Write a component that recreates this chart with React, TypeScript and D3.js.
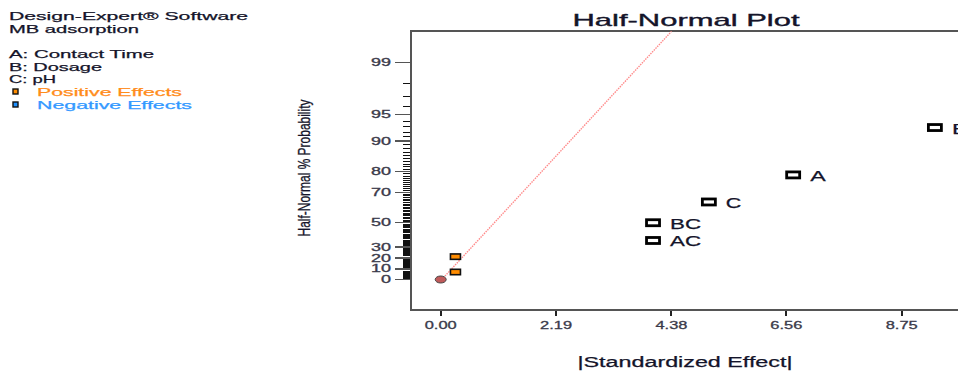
import React from "react";
import * as d3 from "d3";

// values
const noteLines = ["Design-Expert® Software", "MB adsorption"];
const factorLines = ["A: Contact Time", "B: Dosage", "C: pH"];

const errorEffects = [0];
const errorProbs = [0];
const positiveEffects = [0.28, 0.28];
const positiveProbs = [7.1, 21.4];
const termNames = ["AC", "BC", "C", "A", "B"];
const termEffects = [4.03, 4.03, 5.09, 6.69, 9.38];
const termProbs = [35.7, 50, 64.3, 78.6, 92.9];
const fitEffects = [0.08, 4.38];
const fitProbs = [3.2, 99.68];

const xTicks = [0, 2.19, 4.38, 6.56, 8.75];
const yMajor = [0, 10, 20, 30, 50, 70, 80, 90, 95, 99];
const yMinor = d3.range(0, 100);

// inverse normal cdf (Acklam)
function probit(p: number) {
  const a = [-39.6968302866538, 220.946098424521, -275.928510446969, 138.357751867269, -30.6647980661472, 2.50662827745924];
  const b = [-54.4760987982241, 161.585836858041, -155.698979859887, 66.8013118877197, -13.2806815528857];
  const c = [-0.00778489400243029, -0.322396458041136, -2.40075827716184, -2.54973253934373, 4.37466414146497, 2.93816398269878];
  const d = [0.00778469570904146, 0.32246712907004, 2.445134137143, 3.75440866190742];
  const pl = 0.02425;
  if (p < pl) {
    const q = Math.sqrt(-2 * Math.log(p));
    return (((((c[0] * q + c[1]) * q + c[2]) * q + c[3]) * q + c[4]) * q + c[5]) / ((((d[0] * q + d[1]) * q + d[2]) * q + d[3]) * q + 1);
  }
  if (p > 1 - pl) {
    const q = Math.sqrt(-2 * Math.log(1 - p));
    return -(((((c[0] * q + c[1]) * q + c[2]) * q + c[3]) * q + c[4]) * q + c[5]) / ((((d[0] * q + d[1]) * q + d[2]) * q + d[3]) * q + 1);
  }
  const q = p - 0.5;
  const r = q * q;
  return ((((((a[0] * r + a[1]) * r + a[2]) * r + a[3]) * r + a[4]) * r + a[5]) * q) / (((((b[0] * r + b[1]) * r + b[2]) * r + b[3]) * r + b[4]) * r + 1);
}
const halfZ = (pct: number) => (pct <= 0 ? 0 : probit(0.5 + pct / 200));

const FONT = "'Liberation Sans', Arial, sans-serif";
const INK = "#14142a";

export default function App() {
  const x = d3.scaleLinear().domain([0, 8.75]).range([440.7, 901.7]);
  const z = d3.scaleLinear().domain([0, halfZ(99)]).range([279.5, 62.7]);
  const y = (p: number) => z(halfZ(p));

  const frameL = 410.5;
  const frameT = 31;
  const frameB = 310;

  const fitLine = d3
    .line<number>()
    .x((_, i) => x(fitEffects[i]))
    .y((_, i) => y(fitProbs[i]));

  // the source render is stretched sideways, so widths are forced
  const w2 = (s: string, per: number) => s.length * per;

  return (
    <svg width={958} height={371} style={{ position: "absolute", left: 0, top: 0, background: "#fff" }}>
      <defs>
        <clipPath id="plotClip">
          <rect x={frameL} y={frameT} width={600} height={frameB - frameT} />
        </clipPath>
      </defs>

      {/* notes */}
      <g fontFamily={FONT} fontSize={11} fill={INK} stroke={INK} strokeWidth={0.25}>
        <text x={9} y={20} textLength={239} lengthAdjust="spacingAndGlyphs">{noteLines[0]}</text>
        <text x={9} y={33} textLength={130} lengthAdjust="spacingAndGlyphs">{noteLines[1]}</text>
        {factorLines.map((t, i) => (
          <text key={t} x={9} y={58 + i * 12.6} textLength={[145, 93, 47][i]} lengthAdjust="spacingAndGlyphs">
            {t}
          </text>
        ))}
        <rect x={13} y={89} width={5} height={5} fill="#ff8c00" stroke="#111" strokeWidth={1.4} />
        <text x={37} y={95.5} fill="#ff8c1a" stroke="#ff8c1a" textLength={145} lengthAdjust="spacingAndGlyphs">Positive Effects</text>
        <rect x={13} y={102} width={5} height={5} fill="#1e90ff" stroke="#111" strokeWidth={1.4} />
        <text x={37} y={108.5} fill="#3399ff" stroke="#3399ff" textLength={155} lengthAdjust="spacingAndGlyphs">Negative Effects</text>
      </g>

      {/* title */}
      <text x={686} y={26} textAnchor="middle" fontFamily={FONT} fontSize={17} fill={INK} stroke={INK} strokeWidth={0.35} textLength={227} lengthAdjust="spacingAndGlyphs">
        Half-Normal Plot
      </text>

      {/* y axis ticks */}
      <g stroke="#111" shapeRendering="crispEdges">
        {yMinor.map((p) => (
          <line key={p} x1={403} x2={frameL} y1={y(p)} y2={y(p)} strokeWidth={1} />
        ))}
        {yMajor.map((p) => (
          <line key={"M" + p} x1={395} x2={frameL} y1={y(p)} y2={y(p)} stroke="#555" strokeWidth={1.4} />
        ))}
      </g>
      <g fontFamily={FONT} fontSize={10} fill="#3a3a4a" stroke="#3a3a4a" strokeWidth={0.3} textAnchor="end">
        {yMajor.map((p) => (
          <text key={p} x={391} y={y(p) + 3.5} textLength={w2(String(p), 10)} lengthAdjust="spacingAndGlyphs">
            {p}
          </text>
        ))}
      </g>
      <text
        transform={`translate(310,168) rotate(-90)`}
        textAnchor="middle"
        fontFamily={FONT}
        fontSize={17}
        fill={INK}
        stroke={INK}
        strokeWidth={0.3}
        textLength={137}
        lengthAdjust="spacingAndGlyphs"
      >
        Half-Normal % Probability
      </text>

      {/* x axis ticks */}
      <g stroke="#222" strokeWidth={2} shapeRendering="crispEdges">
        {xTicks.map((t) => (
          <line key={t} x1={x(t)} x2={x(t)} y1={frameB} y2={frameB + 6} />
        ))}
      </g>
      <g fontFamily={FONT} fontSize={11} fill="#3a3a4a" stroke="#3a3a4a" strokeWidth={0.3} textAnchor="middle">
        {xTicks.map((t) => (
          <text key={t} x={x(t)} y={329} textLength={32} lengthAdjust="spacingAndGlyphs">
            {d3.format(".2f")(t)}
          </text>
        ))}
      </g>
      <text x={685} y={367} textAnchor="middle" fontFamily={FONT} fontSize={14} fill={INK} stroke={INK} strokeWidth={0.25} textLength={215} lengthAdjust="spacingAndGlyphs">
        |Standardized Effect|
      </text>

      {/* frame */}
      <g stroke="#555" strokeWidth={2} fill="none" shapeRendering="crispEdges">
        <line x1={frameL} x2={frameL} y1={frameT} y2={frameB} />
        <line x1={frameL - 1} x2={958} y1={frameT} y2={frameT} />
        <line x1={frameL - 1} x2={958} y1={frameB} y2={frameB} />
      </g>

      {/* fit line */}
      <path
        d={fitLine(fitEffects) || ""}
        clipPath="url(#plotClip)"
        fill="none"
        stroke="#ff8a8a"
        strokeWidth={1.4}
        strokeDasharray="1.5 1"
      />

      {/* error estimate */}
      {errorEffects.map((e, i) => (
        <ellipse key={i} cx={x(e)} cy={y(errorProbs[i])} rx={5.5} ry={3.5} fill="#c05a5a" stroke="#444" strokeWidth={1} />
      ))}

      {/* positive effects not selected */}
      {positiveEffects.map((e, i) => (
        <rect key={i} x={x(e) - 5} y={y(positiveProbs[i]) - 2.7} width={10} height={5.4} fill="#ff8c00" stroke="#111" strokeWidth={1.6} />
      ))}

      {/* selected terms */}
      {termEffects.map((e, i) => (
        <g key={termNames[i]}>
          <rect x={x(e) - 6.5} y={y(termProbs[i]) - 3} width={13} height={6} fill="#fff" stroke="#000" strokeWidth={2.8} />
          <text
            x={x(e) + 17}
            y={y(termProbs[i]) + 6}
            fontFamily={FONT}
            fontSize={14}
            fill={INK}
            stroke={INK}
            strokeWidth={0.25}
            textLength={termNames[i].length * 15.5}
            lengthAdjust="spacingAndGlyphs"
          >
            {termNames[i]}
          </text>
        </g>
      ))}
    </svg>
  );
}
